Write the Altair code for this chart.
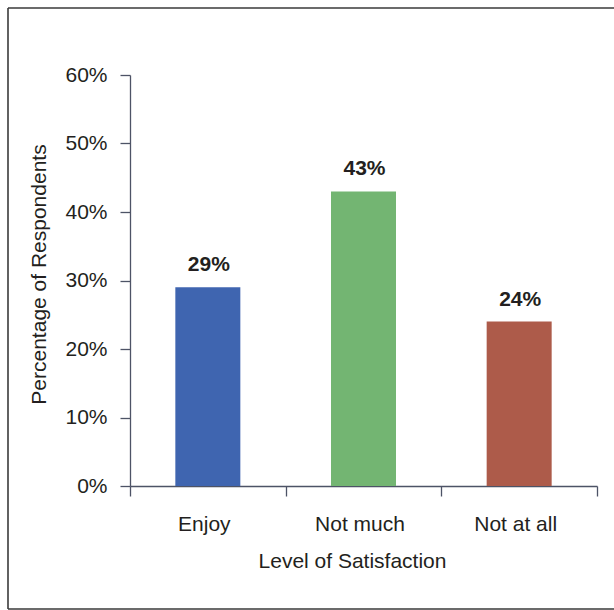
import altair as alt
import pandas as pd

# Survey results: share of respondents per satisfaction level
levels = ["Enjoy", "Not much", "Not at all"]
shares = [29, 43, 24]
bar_colors = ["#3F65B0", "#73B572", "#AD5B4A"]
y_ticks = [0, 10, 20, 30, 40, 50, 60]

df = pd.DataFrame({"level": levels, "share": shares})
df["label"] = df["share"].astype(str) + "%"

FONT = "Liberation Sans"
TEXT = "#231F20"
AXIS = "#4D5366"
FRAME = "#3A3A3A"

W, H = 467, 411

x_enc = alt.X(
    "level:N",
    sort=levels,
    scale=alt.Scale(paddingInner=0, paddingOuter=0),
    axis=alt.Axis(
        title="Level of Satisfaction",
        labelAngle=0,
        tickBand="extent",
        tickSize=10,
        labelPadding=17,
        labelOffset=-4,
        titleX=222,
        titleY=81,
        titleBaseline="alphabetic",
        titleAlign="center",
    ),
)
y_enc = alt.Y(
    "share:Q",
    scale=alt.Scale(domain=[0, 60], nice=False),
    axis=alt.Axis(
        title="Percentage of Respondents",
        values=y_ticks,
        labelExpr="datum.value + '%'",
        tickSize=10,
        labelPadding=13,
        grid=False,
        titleX=-85,
        titleY=199,
        titleBaseline="alphabetic",
        titleAlign="center",
    ),
)

bars = alt.Chart(df).mark_bar(size=65).encode(
    x=x_enc,
    y=y_enc,
    color=alt.Color("level:N", scale=alt.Scale(domain=levels, range=bar_colors), legend=None),
)

labels = alt.Chart(df).mark_text(
    font=FONT, fontSize=21, fontWeight="bold", color=TEXT,
    baseline="alphabetic", dy=-16, dx=1,
).encode(
    x=alt.X("level:N", sort=levels),
    y=alt.Y("share:Q"),
    text="label:N",
)

# Outer frame lines around the figure
one = alt.Data(values=[{}])
frame_left = alt.Chart(one).mark_rule(color=FRAME, strokeWidth=1.6).encode(
    x=alt.value(-122), y=alt.value(-67), y2=alt.value(534)
)
frame_top = alt.Chart(one).mark_rule(color=FRAME, strokeWidth=1.6).encode(
    x=alt.value(-122), x2=alt.value(490), y=alt.value(-67)
)
frame_bottom = alt.Chart(one).mark_rule(color=FRAME, strokeWidth=1.6).encode(
    x=alt.value(-122), x2=alt.value(490), y=alt.value(534)
)

chart = (
    alt.layer(bars, labels, frame_left, frame_top, frame_bottom)
    .properties(
        width=W,
        height=H,
        autosize=alt.AutoSizeParams(type="none"),
        padding={"left": 130, "top": 75, "right": 17, "bottom": 124},
        background="white",
    )
    .configure_view(stroke=None)
    .configure_axis(
        labelFont=FONT,
        titleFont=FONT,
        labelFontSize=21,
        titleFontSize=21,
        labelColor=TEXT,
        titleColor=TEXT,
        titleFontWeight="normal",
        domainColor=AXIS,
        tickColor=AXIS,
        domainWidth=1.3,
        tickWidth=1.3,
    )
)

chart.save("out.html", embed_options={"renderer": "svg", "actions": False})
